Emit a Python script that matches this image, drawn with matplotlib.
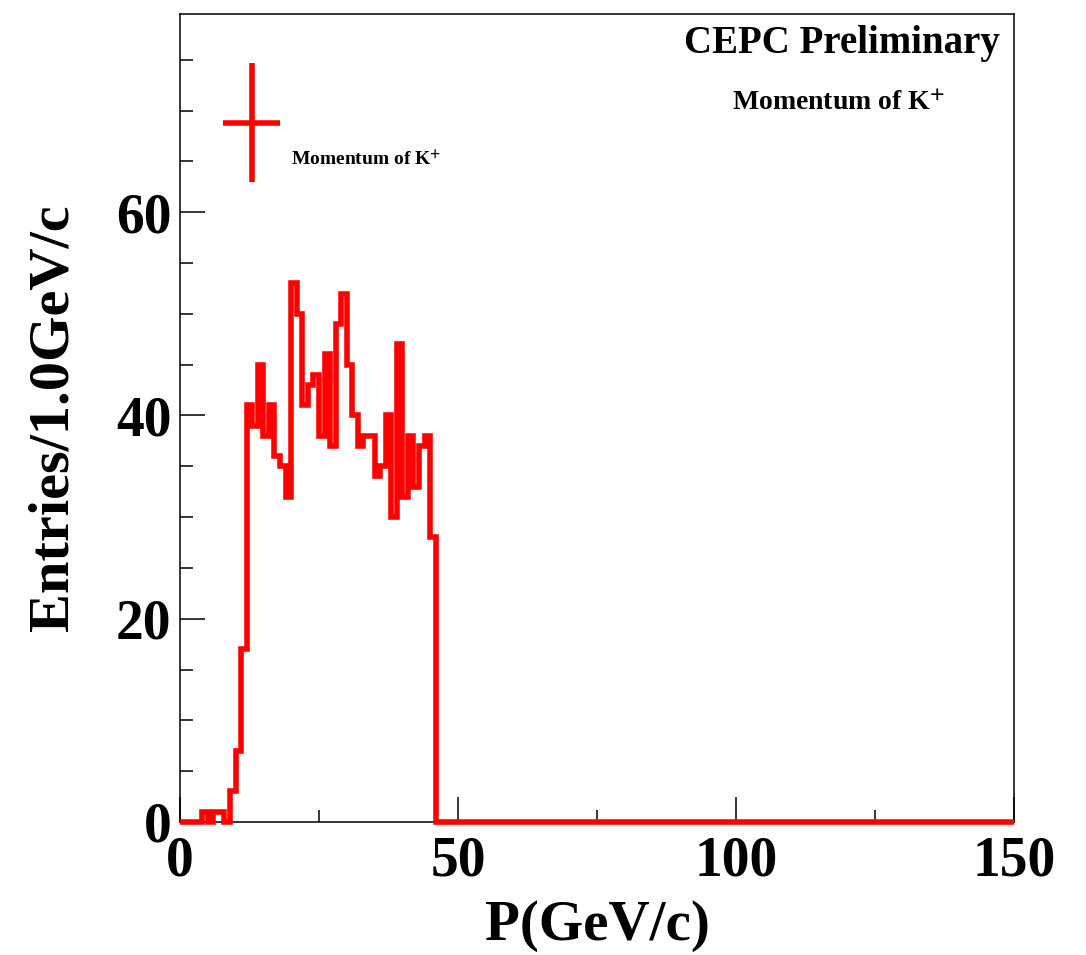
import numpy as np
import matplotlib
matplotlib.use("Agg")
import matplotlib.pyplot as plt

# momentum histogram, 1 GeV/c bins from 0 to 150
n_bins = 150
p_min, p_max = 0, 150
# entries for bins 0..45, everything above is empty
counts_low = [0, 0, 0, 0, 1, 0, 1, 1, 0, 3,
              7, 17, 41, 39, 45, 38, 41, 36, 35, 32,
              53, 50, 41, 43, 44, 38, 46, 37, 49, 52,
              45, 40, 37, 38, 38, 34, 35, 40, 30, 47,
              32, 38, 33, 37, 38, 28]
counts = np.array(counts_low + [0] * (n_bins - len(counts_low)), dtype=float)
edges = np.linspace(p_min, p_max, n_bins + 1)

x_major = [0, 50, 100, 150]
x_minor = [25, 75, 125]
y_major = [0, 20, 40, 60]
y_minor = [5, 10, 15, 25, 30, 35, 45, 50, 55, 65, 70, 75]

plt.rcParams['font.family'] = ['Liberation Serif', 'DejaVu Serif']
plt.rcParams['font.weight'] = 'bold'
plt.rcParams['mathtext.fontset'] = 'stix'

fig = plt.figure(figsize=(10.86, 9.55), dpi=100)
ax = fig.add_axes([0.1657, 0.1393, 0.768, 0.846])

ax.stairs(counts, edges, color='red', linewidth=4.0, baseline=None,
          joinstyle='miter', clip_on=False, zorder=3)

ax.set_xlim(p_min, p_max)
ax.set_ylim(0, 79.5)
ax.set_xticks(x_major)
ax.set_xticks(x_minor, minor=True)
ax.set_yticks(y_major)
ax.set_yticks(y_minor, minor=True)
ax.tick_params(which='both', direction='in', top=False, right=False,
               width=1.1, color='black')
ax.tick_params(which='major', length=18, labelsize=40)
ax.tick_params(which='minor', length=9)
ax.tick_params(axis='x', which='major', pad=10)
ax.tick_params(axis='y', which='major', pad=6)
for s in ax.spines.values():
    s.set_linewidth(1.1)

ax.set_xlabel('P(GeV/c)', fontsize=41, fontweight='bold')
ax.set_ylabel('Entries/1.0GeV/c', fontsize=42, fontweight='bold')
ax.xaxis.set_label_coords(0.5, -0.096)
ax.yaxis.set_label_coords(-0.12, 0.5)

ax.text(0.9832, 0.9517, 'CEPC Preliminary', transform=ax.transAxes,
        ha='right', va='baseline', fontsize=28, fontweight='bold')
ax.text(0.79, 0.881, r'Momentum of K$^{\mathbf{+}}$', transform=ax.transAxes,
        ha='center', va='baseline', fontsize=20, fontweight='bold')

# legend entry: error-bar style cross plus label
ax.plot([0.0516, 0.1199], [0.8657, 0.8657], color='red', lw=4,
        transform=ax.transAxes, solid_capstyle='butt')
ax.plot([0.0863, 0.0863], [0.7921, 0.9394], color='red', lw=4,
        transform=ax.transAxes, solid_capstyle='butt')
ax.text(0.1331, 0.8119, r'Momentum of K$^{\mathbf{+}}$', transform=ax.transAxes,
        ha='left', va='baseline', fontsize=14, fontweight='bold')

fig.savefig('out.png', dpi=100)
